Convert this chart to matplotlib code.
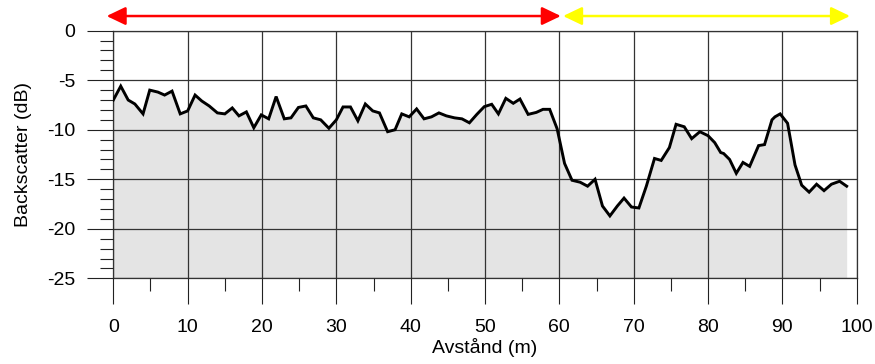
import matplotlib
matplotlib.use("Agg")
import matplotlib.pyplot as plt
from matplotlib.patches import FancyArrowPatch
from matplotlib.ticker import MultipleLocator

plt.rcParams['font.family'] = ['Liberation Sans', 'DejaVu Sans']
plt.rcParams['axes.unicode_minus'] = False

distance = [0, 1.0, 2.0, 2.9, 4.0, 4.9, 6.0, 6.9, 7.9, 9.0,
            10.0, 11.0, 11.9, 12.9, 14.0, 15.0, 16.0, 16.9, 17.9, 18.9,
            19.9, 20.9, 21.9, 23.0, 23.9, 24.9, 25.9, 26.9, 27.9, 29.0,
            30.0, 30.9, 31.9, 32.9, 33.9, 34.9, 35.8, 36.9, 37.9, 38.8,
            39.8, 40.8, 41.8, 42.8, 43.8, 44.8, 45.9, 46.9, 47.9, 48.9,
            49.9, 50.9, 51.8, 52.8, 53.8, 54.7, 55.8, 56.9, 57.8, 58.7,
            59.7, 60.7, 61.7, 62.8, 63.8, 64.8, 65.8, 66.8, 67.8, 68.7,
            69.7, 70.7, 71.7, 72.8, 73.7, 74.8, 75.7, 76.8, 77.8, 78.9,
            80.0, 80.9, 81.7, 82.1, 82.5, 82.9, 83.8, 84.7, 85.6, 86.8,
            87.6, 88.6, 89.0, 89.7, 90.7, 91.7, 92.6, 93.6, 94.6, 95.6,
            96.6, 97.7, 98.65]
backscatter = [-7.0, -5.6, -7.0, -7.4, -8.4, -6.0, -6.2, -6.5, -6.1, -8.4,
               -8.1, -6.5, -7.1, -7.6, -8.3, -8.4, -7.8, -8.6, -8.2, -9.8,
               -8.5, -8.9, -6.65, -8.9, -8.8, -7.75, -7.6, -8.8, -9.0, -9.85,
               -9.0, -7.7, -7.7, -9.1, -7.4, -8.1, -8.3, -10.2, -10.0, -8.4,
               -8.7, -7.9, -8.9, -8.7, -8.3, -8.6, -8.8, -8.9, -9.3, -8.45,
               -7.67, -7.43, -8.4, -6.83, -7.33, -6.9, -8.45, -8.25, -7.94, -7.94,
               -9.9, -13.4, -15.1, -15.3, -15.7, -15.0, -17.7, -18.7, -17.7, -16.9,
               -17.8, -17.9, -15.7, -12.9, -13.1, -11.8, -9.45, -9.7, -10.9, -10.2,
               -10.6, -11.3, -12.3, -12.4, -12.7, -13.0, -14.4, -13.3, -13.7, -11.6,
               -11.5, -9.0, -8.7, -8.4, -9.35, -13.55, -15.6, -16.3, -15.5, -16.15,
               -15.5, -15.2, -15.7]

x_ticks = [0, 10, 20, 30, 40, 50, 60, 70, 80, 90, 100]
y_ticks = [0, -5, -10, -15, -20, -25]
red_span = [-0.9, 60.2]
yellow_span = [60.5, 99.1]
arrow_y = 1.48

fig = plt.figure(figsize=(8.75, 3.64), dpi=100)
ax = fig.add_axes([0.1295, 0.2354, 0.8496, 0.6803])

ax.fill_between(distance, backscatter, -25, color='#e4e4e4', linewidth=0, zorder=1)
ax.plot(distance, backscatter, color='black', linewidth=2.1, zorder=3,
        solid_joinstyle='miter')

ax.set_xlim(0, 100)
ax.set_ylim(-25, 0)
ax.set_xticks(x_ticks)
ax.set_yticks(y_ticks)
ax.xaxis.set_minor_locator(MultipleLocator(5))
ax.yaxis.set_minor_locator(MultipleLocator(1))
ax.tick_params(axis='both', which='major', direction='out', length=18.5, width=0.8,
               labelsize=14, color='#222222')
ax.tick_params(axis='x', which='major', pad=10.5)
ax.tick_params(axis='y', which='major', pad=9)
ax.tick_params(axis='both', which='minor', direction='out', length=9.5, width=0.8,
               color='#222222')
ax.grid(True, which='major', color='#333333', linewidth=0.9, zorder=2)
ax.set_axisbelow(False)
for s in ax.spines.values():
    s.set_color('#333333')
    s.set_linewidth(0.9)

ax.set_xlabel('Avstånd (m)', fontsize=14, labelpad=2)
ax.set_ylabel('Backscatter (dB)', fontsize=14, labelpad=11)

for span, col in [(red_span, '#ff0000'), (yellow_span, '#ffff00')]:
    arr = FancyArrowPatch((span[0], arrow_y), (span[1], arrow_y),
                          arrowstyle='<|-|>,head_length=1.15,head_width=0.55',
                          mutation_scale=10, color=col, linewidth=1.8,
                          shrinkA=0, shrinkB=0, clip_on=False, zorder=5)
    ax.add_patch(arr)

fig.savefig('out.png', dpi=100)
